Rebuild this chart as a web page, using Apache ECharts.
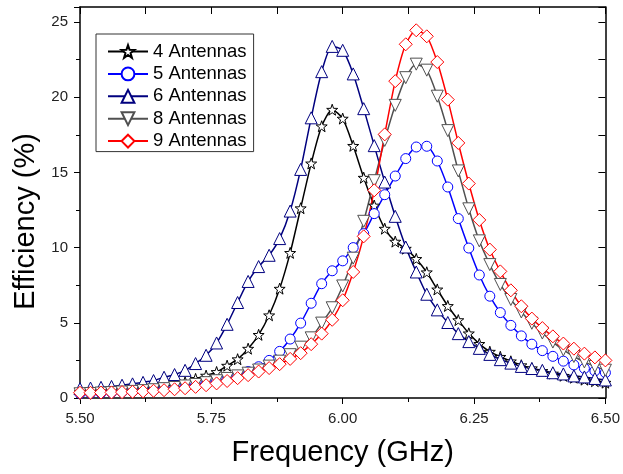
<!DOCTYPE html>
<html>
<head>
<meta charset="utf-8">
<script src="https://cdn.jsdelivr.net/npm/echarts@6/dist/echarts.min.js"></script>
<style>
html,body{margin:0;padding:0;background:#fff;}
#c{width:623px;height:474px;}
</style>
</head>
<body>
<div id="c"></div>
<script>
const freq = [5.50,5.52,5.54,5.56,5.58,5.60,5.62,5.64,5.66,5.68,5.70,5.72,5.74,5.76,5.78,5.80,5.82,5.84,5.86,5.88,5.90,5.92,5.94,5.96,5.98,6.00,6.02,6.04,6.06,6.08,6.10,6.12,6.14,6.16,6.18,6.20,6.22,6.24,6.26,6.28,6.30,6.32,6.34,6.36,6.38,6.40,6.42,6.44,6.46,6.48,6.50];

const ant4 = [0.40,0.43,0.46,0.50,0.54,0.58,0.63,0.70,0.78,0.90,1.05,1.27,1.49,1.73,2.15,2.58,3.28,4.20,5.50,7.27,9.65,12.62,15.60,18.07,19.17,18.58,16.77,14.65,12.80,11.26,10.40,9.93,9.25,8.36,7.22,6.12,5.18,4.30,3.60,3.08,2.74,2.44,2.18,1.98,1.80,1.63,1.48,1.35,1.22,1.12,1.02];

const ant5 = [0.30,0.32,0.34,0.37,0.40,0.44,0.48,0.53,0.59,0.66,0.75,0.86,0.98,1.12,1.30,1.50,1.76,2.08,2.50,3.10,3.92,4.98,6.30,7.60,8.46,9.12,10.00,10.93,12.26,13.52,14.76,15.92,16.69,16.74,15.76,14.03,11.93,9.97,8.18,6.77,5.68,4.83,4.13,3.58,3.15,2.77,2.45,2.20,1.97,1.80,1.68];

const ant6 = [0.62,0.66,0.71,0.77,0.85,0.94,1.04,1.16,1.38,1.56,1.84,2.29,2.84,3.66,4.90,6.35,7.75,8.74,9.49,10.60,12.43,15.20,18.63,21.70,23.38,23.12,21.55,19.24,16.78,14.36,12.08,10.04,8.38,6.90,5.86,5.02,4.28,3.75,3.30,2.90,2.55,2.32,2.10,1.96,1.84,1.68,1.60,1.47,1.40,1.30,1.20];

const ant8 = [0.28,0.30,0.33,0.36,0.40,0.44,0.49,0.55,0.62,0.70,0.80,0.90,1.02,1.15,1.30,1.47,1.65,1.86,2.12,2.45,2.88,3.38,4.00,4.98,6.00,7.45,9.30,11.75,14.45,17.13,19.46,21.30,22.20,21.80,20.07,17.78,15.10,12.58,10.45,8.87,7.55,6.55,5.72,4.97,4.32,3.72,3.20,2.76,2.40,2.10,1.85];

const ant9 = [0.35,0.35,0.36,0.37,0.39,0.41,0.44,0.48,0.52,0.58,0.65,0.74,0.85,0.97,1.13,1.32,1.52,1.76,1.99,2.25,2.60,2.98,3.58,4.28,5.20,6.50,8.38,10.75,13.81,17.53,21.07,23.52,24.45,24.05,22.34,19.84,16.96,14.26,11.84,9.87,8.42,7.16,6.10,5.28,4.65,4.10,3.62,3.28,2.95,2.70,2.50];

const seriesNames = ['4 Antennas','5 Antennas','6 Antennas','8 Antennas','9 Antennas'];
const xTicks = [5.50,5.75,6.00,6.25,6.50];
const yTicks = [0,5,10,15,20,25];

const starPath = 'path://M0,-10 L2.35,-3.24 L9.51,-3.09 L3.8,1.24 L5.88,8.09 L0,4 L-5.88,8.09 L-3.8,1.24 L-9.51,-3.09 L-2.35,-3.24 Z';

const styles = [
  {color:'#000000', symbol: starPath, size: 11, rotate: 0},
  {color:'#0000FF', symbol: 'circle', size: 10, rotate: 0},
  {color:'#00007F', symbol: 'triangle', size: 12, rotate: 0},
  {color:'#505050', symbol: 'triangle', size: 12, rotate: 180},
  {color:'#FF0000', symbol: 'diamond', size: 13, rotate: 0}
];
const values = [ant4, ant5, ant6, ant8, ant9];

const FONT = '"Liberation Sans", Arial, sans-serif';

const chart = echarts.init(document.getElementById('c'), null, {renderer:'canvas'});

const series = values.map((arr, k) => ({
  name: seriesNames[k],
  type: 'line',
  xAxisIndex: 0,
  yAxisIndex: 0,
  data: freq.map((f, i) => [f, arr[i]]),
  smooth: 0.25,
  symbol: styles[k].symbol,
  symbolSize: styles[k].size,
  symbolRotate: styles[k].rotate,
  showAllSymbol: true,
  lineStyle: {color: styles[k].color, width: 1.5},
  itemStyle: {color: '#ffffff', borderColor: styles[k].color, borderWidth: 1},
  emphasis: {disabled: true},
  animation: false
}));

const tickLabelStyle = {fontFamily: FONT, fontSize: 15, color: '#222'};

chart.setOption({
  animation: false,
  backgroundColor: '#ffffff',
  grid: {left: 80, right: 16, top: 7, bottom: 76, containLabel: false},
  legend: {
    data: seriesNames.map((n, k) => ({name: n})),
    orient: 'vertical',
    left: 96,
    top: 34,
    padding: [8, 7, 1, 11],
    itemWidth: 40,
    itemHeight: 16,
    itemGap: 3.4,
    borderColor: '#333',
    borderWidth: 1,
    backgroundColor: '#fff',
    textStyle: {fontFamily: FONT, fontSize: 18.5, color: '#000', lineHeight: 18},
    selectedMode: false
  },
  xAxis: [
    {
      type: 'value', position: 'bottom', min: 5.5, max: 6.5, interval: 0.25,
      name: 'Frequency (GHz)', nameLocation: 'middle', nameGap: 40,
      nameTextStyle: {fontFamily: FONT, fontSize: 29, color: '#000'},
      axisLine: {show: true, onZero: false, lineStyle: {color: '#000', width: 1.5}},
      axisTick: {show: true, inside: false, length: 6, lineStyle: {color: '#000', width: 1}},
      minorTick: {show: true, splitNumber: 2, length: 4, lineStyle: {color: '#000', width: 1}},
      axisLabel: Object.assign({margin: 13, formatter: v => Number(v).toFixed(2)}, tickLabelStyle),
      splitLine: {show: false}
    },
    {
      type: 'value', position: 'top', min: 5.5, max: 6.5, interval: 0.25,
      axisLine: {show: true, onZero: false, lineStyle: {color: '#000', width: 1.5}},
      axisTick: {show: true, inside: true, length: 7, lineStyle: {color: '#000', width: 1}},
      minorTick: {show: true, splitNumber: 2, length: 7, lineStyle: {color: '#000', width: 1}},
      axisLabel: {show: false},
      splitLine: {show: false}
    }
  ],
  yAxis: [
    {
      type: 'value', position: 'left', min: 0, max: 26, interval: 5,
      name: 'Efficiency (%)', nameLocation: 'middle', nameGap: 37, nameRotate: 90,
      nameTextStyle: {fontFamily: FONT, fontSize: 29, color: '#000', padding: [0, 38, 0, 0]},
      axisLine: {show: true, onZero: false, lineStyle: {color: '#000', width: 1.5}},
      axisTick: {show: true, inside: false, length: 6, lineStyle: {color: '#000', width: 1}},
      minorTick: {show: true, splitNumber: 2, length: 4, lineStyle: {color: '#000', width: 1}},
      axisLabel: Object.assign({margin: 12, showMaxLabel: false, formatter: v => (yTicks.indexOf(v) >= 0 ? String(v) : '')}, tickLabelStyle),
      splitLine: {show: false}
    },
    {
      type: 'value', position: 'right', min: 0, max: 26, interval: 5,
      axisLine: {show: true, onZero: false, lineStyle: {color: '#000', width: 1.5}},
      axisTick: {show: true, inside: true, length: 7, lineStyle: {color: '#000', width: 1}},
      minorTick: {show: true, splitNumber: 2, length: 7, lineStyle: {color: '#000', width: 1}},
      axisLabel: {show: false},
      splitLine: {show: false}
    }
  ],
  series: series
});
</script>
</body>
</html>
